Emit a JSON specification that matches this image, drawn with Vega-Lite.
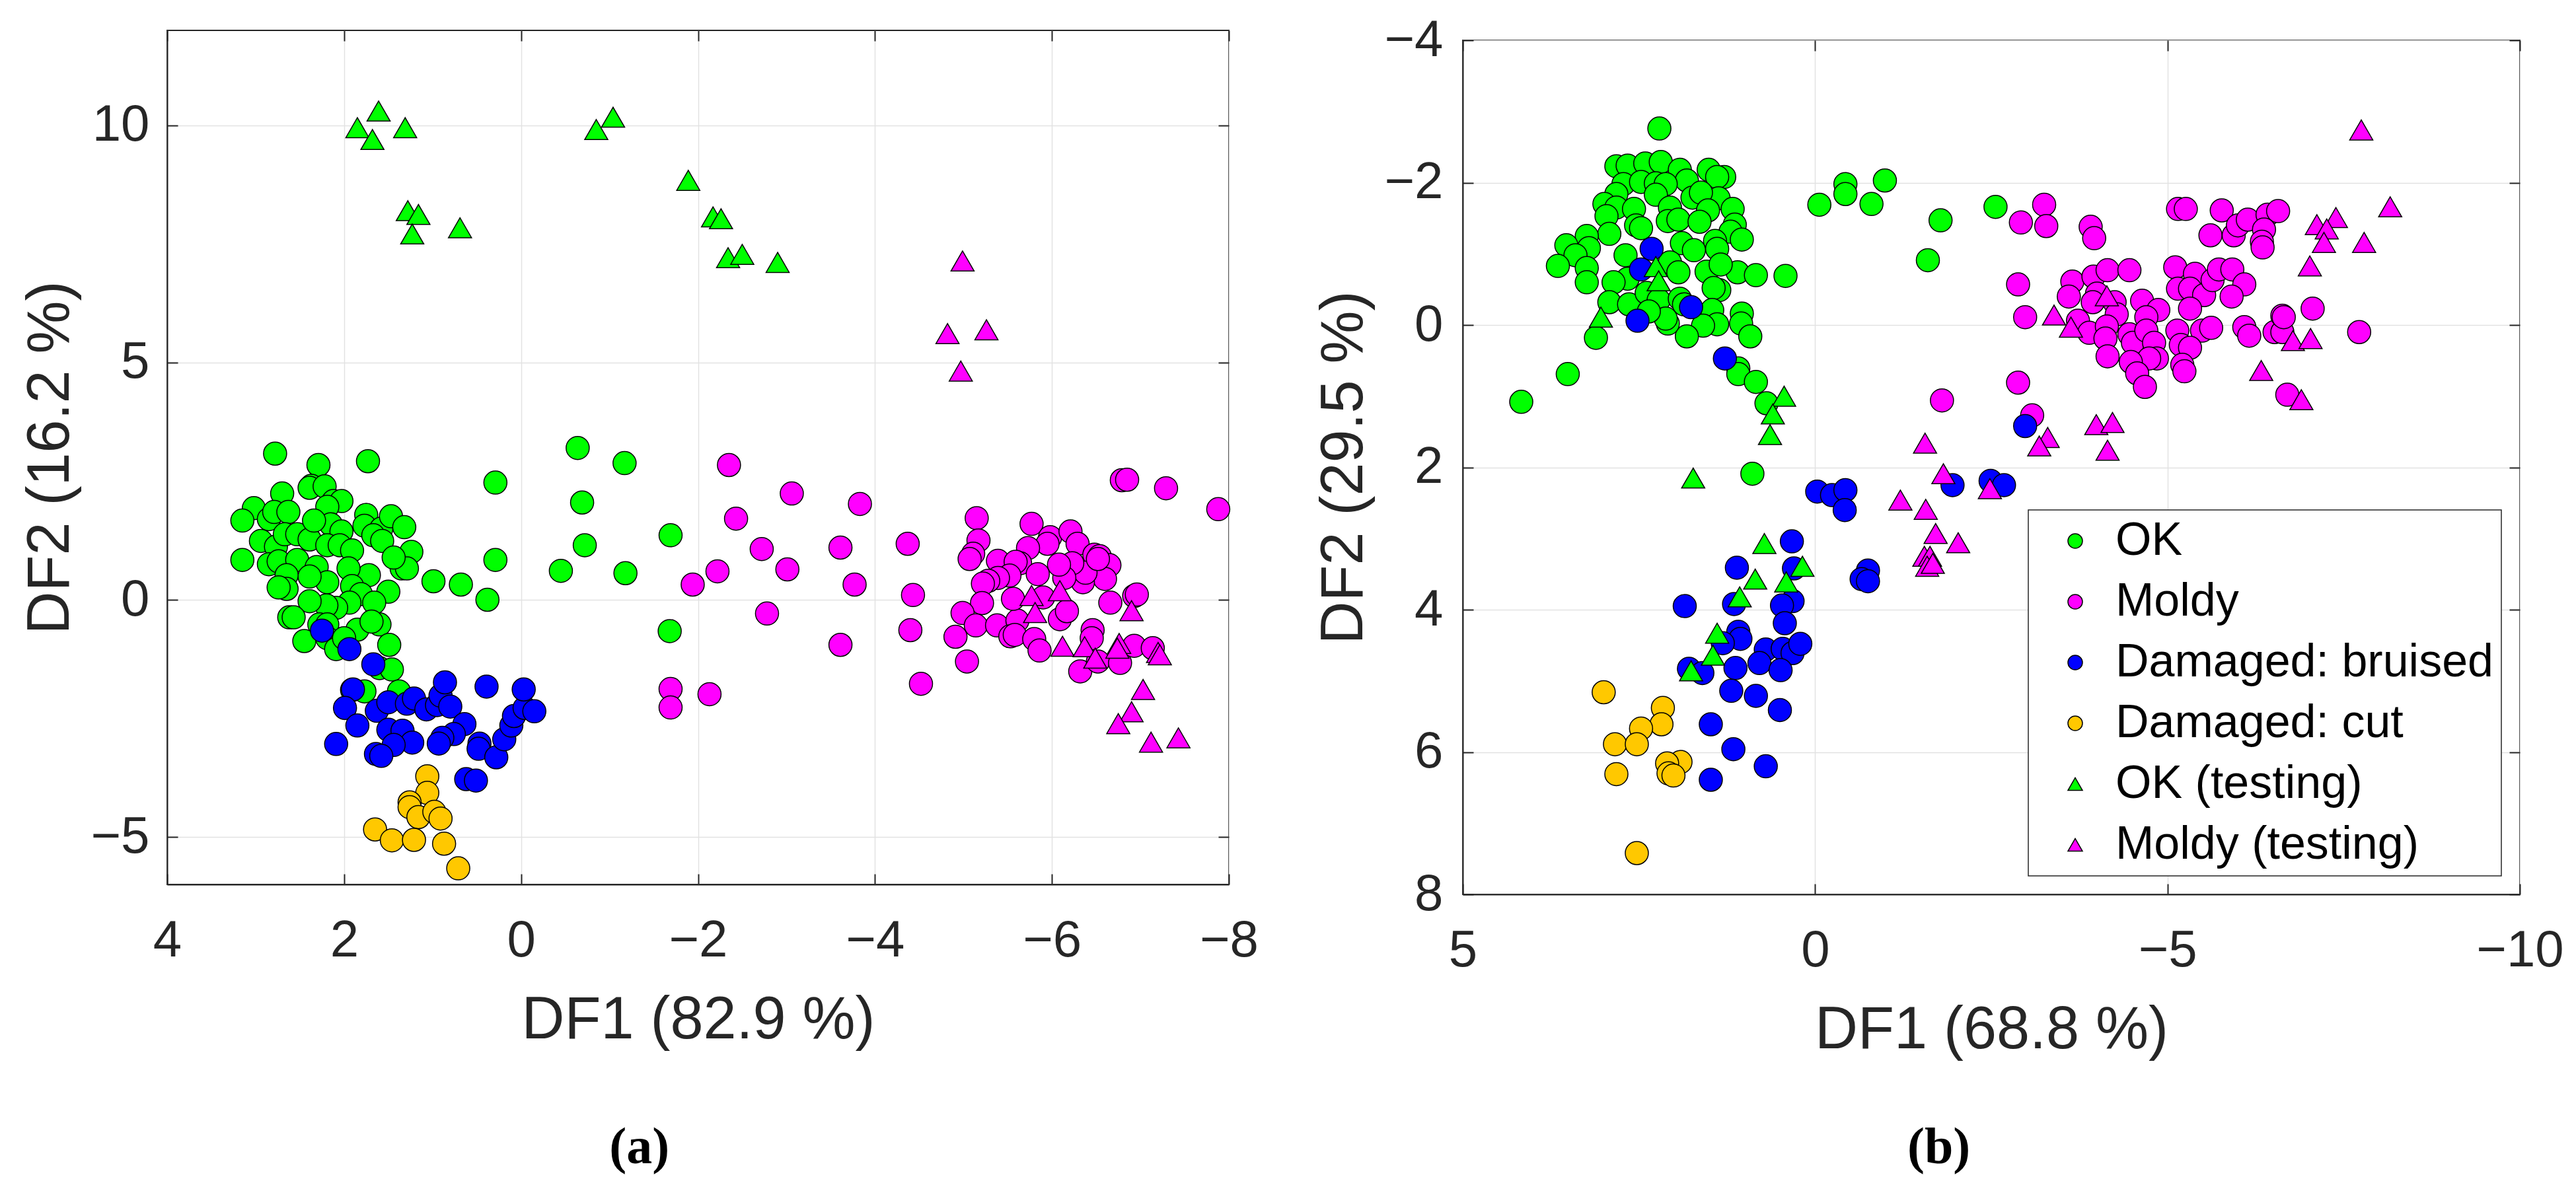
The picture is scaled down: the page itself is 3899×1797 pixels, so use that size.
{
  "$schema": "https://vega.github.io/schema/vega-lite/v6.json",
  "description": "Discriminant function scores, panels (a) and (b)",
  "autosize": {"type": "pad"},
  "padding": {"left": 30, "top": 21, "right": 5, "bottom": 5},
  "bounds": "flush",
  "spacing": 354,
  "config": {
    "font": "Liberation Sans",
    "view": {"stroke": "#262626", "strokeWidth": 2},
    "axis": {
      "labelFont": "Liberation Sans",
      "labelFontSize": 78,
      "labelColor": "#262626",
      "labelFlush": false,
      "labelOverlap": false,
      "labelPadding": 43,
      "titleFont": "Liberation Sans",
      "titleFontSize": 90,
      "titleFontWeight": "normal",
      "titleColor": "#262626",
      "tickColor": "#262626",
      "tickSize": -16,
      "tickWidth": 2,
      "domainColor": "#262626",
      "domainWidth": 2,
      "gridColor": "#e2e2e2",
      "gridWidth": 1.5
    },
    "axisX": {"labelPadding": 62, "titlePadding": 37},
    "axisY": {"titlePadding": 15},
    "legend": {"strokeWidth": 1.5},
    "title": {
      "font": "Liberation Serif",
      "fontWeight": "bold",
      "fontSize": 78,
      "color": "black",
      "orient": "bottom",
      "frame": "bounds",
      "offset": 110
    }
  },
  "resolve": {"legend": {"color": "independent", "shape": "independent"}},
  "datasets": {
    "a": [
      {"c": "OK", "x": 2.78, "y": 3.08}, {"c": "OK", "x": 1.73, "y": 2.92}, {"c": "OK", "x": 2.29, "y": 2.84}, {"c": "OK", "x": 2.37, "y": 2.40},
      {"c": "OK", "x": -0.64, "y": 3.20}, {"c": "OK", "x": -1.17, "y": 2.88}, {"c": "OK", "x": -1.69, "y": 1.36}, {"c": "OK", "x": -1.18, "y": 0.56},
      {"c": "OK", "x": -1.68, "y": -0.66}, {"c": "OK", "x": 0.29, "y": 2.47}, {"c": "OK", "x": -0.69, "y": 2.05}, {"c": "OK", "x": -0.72, "y": 1.15},
      {"c": "OK", "x": 0.29, "y": 0.84}, {"c": "OK", "x": -0.45, "y": 0.61}, {"c": "OK", "x": 0.99, "y": 0.39}, {"c": "OK", "x": 0.68, "y": 0.32},
      {"c": "OK", "x": 0.38, "y": 0.0}, {"c": "OK", "x": 2.70, "y": 2.24}, {"c": "OK", "x": 2.39, "y": 2.36}, {"c": "OK", "x": 2.22, "y": 2.39},
      {"c": "OK", "x": 2.12, "y": 2.08}, {"c": "OK", "x": 2.03, "y": 2.08}, {"c": "OK", "x": 2.19, "y": 1.96}, {"c": "OK", "x": 3.02, "y": 1.93},
      {"c": "OK", "x": 3.15, "y": 1.67}, {"c": "OK", "x": 2.85, "y": 1.70}, {"c": "OK", "x": 2.79, "y": 1.85}, {"c": "OK", "x": 2.63, "y": 1.85},
      {"c": "OK", "x": 2.94, "y": 1.24}, {"c": "OK", "x": 2.77, "y": 1.12}, {"c": "OK", "x": 2.67, "y": 1.38}, {"c": "OK", "x": 2.53, "y": 1.38},
      {"c": "OK", "x": 2.39, "y": 1.27}, {"c": "OK", "x": 2.15, "y": 1.59}, {"c": "OK", "x": 2.34, "y": 1.67}, {"c": "OK", "x": 2.03, "y": 1.44},
      {"c": "OK", "x": 1.75, "y": 1.79}, {"c": "OK", "x": 1.77, "y": 1.56}, {"c": "OK", "x": 1.58, "y": 1.50}, {"c": "OK", "x": 1.47, "y": 1.76},
      {"c": "OK", "x": 1.32, "y": 1.53}, {"c": "OK", "x": 1.67, "y": 1.36}, {"c": "OK", "x": 1.57, "y": 1.24}, {"c": "OK", "x": 3.15, "y": 0.84},
      {"c": "OK", "x": 2.85, "y": 0.75}, {"c": "OK", "x": 2.74, "y": 0.81}, {"c": "OK", "x": 2.53, "y": 0.84}, {"c": "OK", "x": 2.31, "y": 0.69},
      {"c": "OK", "x": 2.19, "y": 1.15}, {"c": "OK", "x": 2.05, "y": 1.15}, {"c": "OK", "x": 1.91, "y": 1.04}, {"c": "OK", "x": 1.24, "y": 1.01},
      {"c": "OK", "x": 1.35, "y": 0.66}, {"c": "OK", "x": 1.29, "y": 0.66}, {"c": "OK", "x": 1.44, "y": 0.89}, {"c": "OK", "x": 1.72, "y": 0.52},
      {"c": "OK", "x": 1.95, "y": 0.66}, {"c": "OK", "x": 2.19, "y": 0.37}, {"c": "OK", "x": 2.39, "y": 0.49}, {"c": "OK", "x": 2.65, "y": 0.52},
      {"c": "OK", "x": 2.65, "y": 0.23}, {"c": "OK", "x": 2.74, "y": 0.26}, {"c": "OK", "x": 1.91, "y": 0.29}, {"c": "OK", "x": 1.81, "y": 0.12},
      {"c": "OK", "x": 1.50, "y": 0.17}, {"c": "OK", "x": 1.66, "y": -0.06}, {"c": "OK", "x": 1.94, "y": -0.06}, {"c": "OK", "x": 2.09, "y": -0.17},
      {"c": "OK", "x": 2.20, "y": -0.12}, {"c": "OK", "x": 2.39, "y": -0.03}, {"c": "OK", "x": 2.62, "y": -0.37}, {"c": "OK", "x": 2.57, "y": -0.37},
      {"c": "OK", "x": 2.28, "y": -0.52}, {"c": "OK", "x": 2.19, "y": -0.52}, {"c": "OK", "x": 1.85, "y": -0.63}, {"c": "OK", "x": 1.60, "y": -0.52},
      {"c": "OK", "x": 1.69, "y": -0.46}, {"c": "OK", "x": 2.45, "y": -0.87}, {"c": "OK", "x": 2.19, "y": -0.81}, {"c": "OK", "x": 2.09, "y": -1.04},
      {"c": "OK", "x": 2.00, "y": -0.81}, {"c": "OK", "x": 1.49, "y": -0.95}, {"c": "OK", "x": 1.60, "y": -1.44}, {"c": "OK", "x": 1.46, "y": -1.47},
      {"c": "OK", "x": 1.91, "y": -1.90}, {"c": "OK", "x": 1.77, "y": -1.93}, {"c": "OK", "x": 1.38, "y": -1.93},
      {"c": "Moldy", "x": -2.35, "y": 2.84}, {"c": "Moldy", "x": -3.06, "y": 2.24}, {"c": "Moldy", "x": -3.83, "y": 2.02}, {"c": "Moldy", "x": -2.43, "y": 1.71},
      {"c": "Moldy", "x": -2.72, "y": 1.07}, {"c": "Moldy", "x": -3.61, "y": 1.10}, {"c": "Moldy", "x": -4.37, "y": 1.18}, {"c": "Moldy", "x": -2.22, "y": 0.60},
      {"c": "Moldy", "x": -3.01, "y": 0.64}, {"c": "Moldy", "x": -1.94, "y": 0.32}, {"c": "Moldy", "x": -3.77, "y": 0.32}, {"c": "Moldy", "x": -4.43, "y": 0.10},
      {"c": "Moldy", "x": -2.78, "y": -0.29}, {"c": "Moldy", "x": -3.61, "y": -0.95}, {"c": "Moldy", "x": -4.40, "y": -0.64}, {"c": "Moldy", "x": -4.52, "y": -1.77},
      {"c": "Moldy", "x": -1.69, "y": -1.88}, {"c": "Moldy", "x": -1.69, "y": -2.27}, {"c": "Moldy", "x": -2.13, "y": -1.99}, {"c": "Moldy", "x": -6.79, "y": 2.52},
      {"c": "Moldy", "x": -6.85, "y": 2.53}, {"c": "Moldy", "x": -7.29, "y": 2.35}, {"c": "Moldy", "x": -7.88, "y": 1.91}, {"c": "Moldy", "x": -5.15, "y": 1.72},
      {"c": "Moldy", "x": -5.17, "y": 1.25}, {"c": "Moldy", "x": -5.11, "y": 0.97}, {"c": "Moldy", "x": -5.07, "y": 0.86}, {"c": "Moldy", "x": -5.77, "y": 1.60},
      {"c": "Moldy", "x": -5.98, "y": 1.32}, {"c": "Moldy", "x": -5.95, "y": 1.18}, {"c": "Moldy", "x": -5.73, "y": 1.09}, {"c": "Moldy", "x": -5.64, "y": 0.77},
      {"c": "Moldy", "x": -5.39, "y": 0.82}, {"c": "Moldy", "x": -6.21, "y": 1.44}, {"c": "Moldy", "x": -6.29, "y": 1.18}, {"c": "Moldy", "x": -6.48, "y": 0.95},
      {"c": "Moldy", "x": -6.54, "y": 0.92}, {"c": "Moldy", "x": -6.65, "y": 0.73}, {"c": "Moldy", "x": -6.60, "y": 0.44}, {"c": "Moldy", "x": -6.35, "y": 0.37},
      {"c": "Moldy", "x": -6.38, "y": 0.57}, {"c": "Moldy", "x": -6.23, "y": 0.77}, {"c": "Moldy", "x": -6.14, "y": 0.46}, {"c": "Moldy", "x": -6.08, "y": 0.74},
      {"c": "Moldy", "x": -5.84, "y": 0.54}, {"c": "Moldy", "x": -5.59, "y": 0.80}, {"c": "Moldy", "x": -5.52, "y": 0.51}, {"c": "Moldy", "x": -5.39, "y": 0.46},
      {"c": "Moldy", "x": -5.28, "y": 0.40}, {"c": "Moldy", "x": -5.22, "y": 0.34}, {"c": "Moldy", "x": -5.21, "y": -0.07}, {"c": "Moldy", "x": -4.99, "y": -0.28},
      {"c": "Moldy", "x": -5.14, "y": -0.54}, {"c": "Moldy", "x": -4.91, "y": -0.78}, {"c": "Moldy", "x": -5.04, "y": -1.30}, {"c": "Moldy", "x": -5.38, "y": -0.54},
      {"c": "Moldy", "x": -5.61, "y": -0.44}, {"c": "Moldy", "x": -5.56, "y": 0.02}, {"c": "Moldy", "x": -5.90, "y": 0.05}, {"c": "Moldy", "x": -5.53, "y": -0.77},
      {"c": "Moldy", "x": -5.58, "y": -0.74}, {"c": "Moldy", "x": -5.80, "y": -0.83}, {"c": "Moldy", "x": -5.86, "y": -1.07}, {"c": "Moldy", "x": -6.09, "y": -0.41},
      {"c": "Moldy", "x": -6.17, "y": -0.24}, {"c": "Moldy", "x": -6.32, "y": -1.51}, {"c": "Moldy", "x": -6.46, "y": -0.64}, {"c": "Moldy", "x": -6.45, "y": -0.81},
      {"c": "Moldy", "x": -6.52, "y": -1.30}, {"c": "Moldy", "x": -6.66, "y": -0.06}, {"c": "Moldy", "x": -6.77, "y": -1.33}, {"c": "Moldy", "x": -6.93, "y": 0.08},
      {"c": "Moldy", "x": -6.96, "y": 0.11}, {"c": "Moldy", "x": -6.93, "y": -0.97}, {"c": "Moldy", "x": -7.14, "y": -1.02}, {"c": "Moldy", "x": -6.52, "y": 0.86},
      {"c": "Damaged: bruised", "x": 2.25, "y": -0.65}, {"c": "Damaged: bruised", "x": 1.94, "y": -1.04}, {"c": "Damaged: bruised", "x": 1.67, "y": -1.36},
      {"c": "Damaged: bruised", "x": 1.90, "y": -1.89}, {"c": "Damaged: bruised", "x": 1.99, "y": -2.28}, {"c": "Damaged: bruised", "x": 1.85, "y": -2.65},
      {"c": "Damaged: bruised", "x": 2.09, "y": -3.04}, {"c": "Damaged: bruised", "x": 1.63, "y": -2.34}, {"c": "Damaged: bruised", "x": 1.50, "y": -2.16},
      {"c": "Damaged: bruised", "x": 1.29, "y": -2.19}, {"c": "Damaged: bruised", "x": 1.21, "y": -2.08}, {"c": "Damaged: bruised", "x": 1.07, "y": -2.31},
      {"c": "Damaged: bruised", "x": 0.95, "y": -2.22}, {"c": "Damaged: bruised", "x": 0.91, "y": -2.02}, {"c": "Damaged: bruised", "x": 0.86, "y": -1.74},
      {"c": "Damaged: bruised", "x": 0.80, "y": -2.25}, {"c": "Damaged: bruised", "x": 0.64, "y": -2.62}, {"c": "Damaged: bruised", "x": 0.76, "y": -2.83},
      {"c": "Damaged: bruised", "x": 0.89, "y": -2.91}, {"c": "Damaged: bruised", "x": 0.93, "y": -3.03}, {"c": "Damaged: bruised", "x": 1.50, "y": -2.74},
      {"c": "Damaged: bruised", "x": 1.34, "y": -2.76}, {"c": "Damaged: bruised", "x": 1.23, "y": -3.01}, {"c": "Damaged: bruised", "x": 1.44, "y": -3.06},
      {"c": "Damaged: bruised", "x": 1.64, "y": -3.25}, {"c": "Damaged: bruised", "x": 1.58, "y": -3.29}, {"c": "Damaged: bruised", "x": 0.47, "y": -3.03},
      {"c": "Damaged: bruised", "x": 0.48, "y": -3.14}, {"c": "Damaged: bruised", "x": 0.28, "y": -3.32}, {"c": "Damaged: bruised", "x": 0.19, "y": -2.94},
      {"c": "Damaged: bruised", "x": 0.11, "y": -2.65}, {"c": "Damaged: bruised", "x": 0.08, "y": -2.45}, {"c": "Damaged: bruised", "x": -0.04, "y": -2.28},
      {"c": "Damaged: bruised", "x": -0.15, "y": -2.35}, {"c": "Damaged: bruised", "x": -0.03, "y": -1.89}, {"c": "Damaged: bruised", "x": 0.39, "y": -1.83},
      {"c": "Damaged: bruised", "x": 0.62, "y": -3.78}, {"c": "Damaged: bruised", "x": 0.51, "y": -3.81},
      {"c": "Damaged: cut", "x": 1.06, "y": -3.72}, {"c": "Damaged: cut", "x": 1.06, "y": -4.07}, {"c": "Damaged: cut", "x": 1.26, "y": -4.27},
      {"c": "Damaged: cut", "x": 1.26, "y": -4.37}, {"c": "Damaged: cut", "x": 1.16, "y": -4.58}, {"c": "Damaged: cut", "x": 0.98, "y": -4.47},
      {"c": "Damaged: cut", "x": 0.91, "y": -4.61}, {"c": "Damaged: cut", "x": 1.65, "y": -4.84}, {"c": "Damaged: cut", "x": 1.46, "y": -5.07},
      {"c": "Damaged: cut", "x": 1.21, "y": -5.06}, {"c": "Damaged: cut", "x": 0.87, "y": -5.14}, {"c": "Damaged: cut", "x": 0.71, "y": -5.66},
      {"c": "OK (testing)", "x": 1.85, "y": 9.95}, {"c": "OK (testing)", "x": 1.61, "y": 10.30}, {"c": "OK (testing)", "x": 1.68, "y": 9.70},
      {"c": "OK (testing)", "x": 1.31, "y": 9.95}, {"c": "OK (testing)", "x": -0.85, "y": 9.91}, {"c": "OK (testing)", "x": -1.04, "y": 10.17},
      {"c": "OK (testing)", "x": -1.89, "y": 8.84}, {"c": "OK (testing)", "x": 1.28, "y": 8.20}, {"c": "OK (testing)", "x": 1.16, "y": 8.12},
      {"c": "OK (testing)", "x": 1.23, "y": 7.71}, {"c": "OK (testing)", "x": 0.69, "y": 7.84}, {"c": "OK (testing)", "x": -2.17, "y": 8.07},
      {"c": "OK (testing)", "x": -2.26, "y": 8.03}, {"c": "OK (testing)", "x": -2.34, "y": 7.21}, {"c": "OK (testing)", "x": -2.50, "y": 7.28},
      {"c": "OK (testing)", "x": -2.90, "y": 7.11},
      {"c": "Moldy (testing)", "x": -4.99, "y": 7.14}, {"c": "Moldy (testing)", "x": -4.82, "y": 5.61}, {"c": "Moldy (testing)", "x": -5.26, "y": 5.69},
      {"c": "Moldy (testing)", "x": -4.97, "y": 4.82}, {"c": "Moldy (testing)", "x": -5.77, "y": 0.09}, {"c": "Moldy (testing)", "x": -6.09, "y": 0.19},
      {"c": "Moldy (testing)", "x": -5.81, "y": -0.27}, {"c": "Moldy (testing)", "x": -6.90, "y": -0.23}, {"c": "Moldy (testing)", "x": -6.12, "y": -0.98},
      {"c": "Moldy (testing)", "x": -6.37, "y": -0.99}, {"c": "Moldy (testing)", "x": -6.49, "y": -1.23}, {"c": "Moldy (testing)", "x": -6.76, "y": -0.92},
      {"c": "Moldy (testing)", "x": -6.74, "y": -1.02}, {"c": "Moldy (testing)", "x": -7.20, "y": -1.11}, {"c": "Moldy (testing)", "x": -7.22, "y": -1.16},
      {"c": "Moldy (testing)", "x": -7.03, "y": -1.89}, {"c": "Moldy (testing)", "x": -6.90, "y": -2.36}, {"c": "Moldy (testing)", "x": -6.75, "y": -2.61},
      {"c": "Moldy (testing)", "x": -7.12, "y": -3.00}, {"c": "Moldy (testing)", "x": -7.43, "y": -2.91}
    ],
    "b": [
      {"c": "OK", "x": 2.21, "y": -2.76}, {"c": "OK", "x": 2.82, "y": -2.23}, {"c": "OK", "x": 2.66, "y": -2.24}, {"c": "OK", "x": 2.41, "y": -2.27},
      {"c": "OK", "x": 2.19, "y": -2.29}, {"c": "OK", "x": 1.92, "y": -2.18}, {"c": "OK", "x": 1.82, "y": -2.03}, {"c": "OK", "x": 1.51, "y": -2.18},
      {"c": "OK", "x": 1.29, "y": -2.08}, {"c": "OK", "x": 1.39, "y": -2.08}, {"c": "OK", "x": 2.72, "y": -1.98}, {"c": "OK", "x": 2.47, "y": -2.01},
      {"c": "OK", "x": 2.26, "y": -1.99}, {"c": "OK", "x": 2.12, "y": -1.98}, {"c": "OK", "x": 2.82, "y": -1.84}, {"c": "OK", "x": 2.26, "y": -1.83},
      {"c": "OK", "x": 1.74, "y": -1.79}, {"c": "OK", "x": 1.37, "y": -1.78}, {"c": "OK", "x": 1.62, "y": -1.86}, {"c": "OK", "x": 2.99, "y": -1.70},
      {"c": "OK", "x": 2.82, "y": -1.65}, {"c": "OK", "x": 2.57, "y": -1.63}, {"c": "OK", "x": 2.06, "y": -1.65}, {"c": "OK", "x": 1.17, "y": -1.63},
      {"c": "OK", "x": 1.52, "y": -1.61}, {"c": "OK", "x": 2.96, "y": -1.53}, {"c": "OK", "x": 2.92, "y": -1.28}, {"c": "OK", "x": 2.54, "y": -1.40},
      {"c": "OK", "x": 2.47, "y": -1.36}, {"c": "OK", "x": 2.09, "y": -1.46}, {"c": "OK", "x": 1.94, "y": -1.48}, {"c": "OK", "x": 1.64, "y": -1.45},
      {"c": "OK", "x": 1.14, "y": -1.41}, {"c": "OK", "x": 1.20, "y": -1.31}, {"c": "OK", "x": 1.04, "y": -1.20}, {"c": "OK", "x": 1.42, "y": -1.18},
      {"c": "OK", "x": 1.39, "y": -1.07}, {"c": "OK", "x": 1.89, "y": -1.15}, {"c": "OK", "x": 1.72, "y": -1.05}, {"c": "OK", "x": 3.24, "y": -1.25},
      {"c": "OK", "x": 3.21, "y": -1.08}, {"c": "OK", "x": 3.53, "y": -1.12}, {"c": "OK", "x": 3.40, "y": -0.98}, {"c": "OK", "x": 3.65, "y": -0.83},
      {"c": "OK", "x": 3.24, "y": -0.80}, {"c": "OK", "x": 3.24, "y": -0.60}, {"c": "OK", "x": 2.69, "y": -0.98}, {"c": "OK", "x": 2.06, "y": -0.88},
      {"c": "OK", "x": 1.94, "y": -0.74}, {"c": "OK", "x": 2.66, "y": -0.65}, {"c": "OK", "x": 2.86, "y": -0.60}, {"c": "OK", "x": 1.54, "y": -0.75},
      {"c": "OK", "x": 1.10, "y": -0.74}, {"c": "OK", "x": 0.84, "y": -0.70}, {"c": "OK", "x": 0.42, "y": -0.69}, {"c": "OK", "x": 1.34, "y": -0.85},
      {"c": "OK", "x": 2.92, "y": -0.32}, {"c": "OK", "x": 2.64, "y": -0.29}, {"c": "OK", "x": 2.39, "y": -0.45}, {"c": "OK", "x": 2.22, "y": -0.35},
      {"c": "OK", "x": 1.92, "y": -0.37}, {"c": "OK", "x": 1.86, "y": -0.29}, {"c": "OK", "x": 1.36, "y": -0.49}, {"c": "OK", "x": 1.44, "y": -0.52},
      {"c": "OK", "x": 1.46, "y": -0.21}, {"c": "OK", "x": 1.39, "y": -0.01}, {"c": "OK", "x": 1.04, "y": -0.16}, {"c": "OK", "x": 1.05, "y": -0.02},
      {"c": "OK", "x": 0.92, "y": 0.16}, {"c": "OK", "x": 1.59, "y": 0.01}, {"c": "OK", "x": 1.82, "y": 0.16}, {"c": "OK", "x": 2.09, "y": -0.02},
      {"c": "OK", "x": 2.12, "y": -0.09}, {"c": "OK", "x": 2.36, "y": -0.19}, {"c": "OK", "x": 3.11, "y": 0.18}, {"c": "OK", "x": 3.51, "y": 0.69},
      {"c": "OK", "x": 4.17, "y": 1.08}, {"c": "OK", "x": 1.09, "y": 0.61}, {"c": "OK", "x": 1.09, "y": 0.69}, {"c": "OK", "x": 0.84, "y": 0.80},
      {"c": "OK", "x": 0.69, "y": 1.10}, {"c": "OK", "x": -0.06, "y": -1.69}, {"c": "OK", "x": -0.43, "y": -1.98}, {"c": "OK", "x": -0.43, "y": -1.84},
      {"c": "OK", "x": -0.80, "y": -1.70}, {"c": "OK", "x": -0.99, "y": -2.03}, {"c": "OK", "x": -1.78, "y": -1.47}, {"c": "OK", "x": -2.56, "y": -1.66},
      {"c": "OK", "x": -1.60, "y": -0.91}, {"c": "OK", "x": 0.89, "y": 2.09},
      {"c": "Moldy", "x": -3.25, "y": -1.69}, {"c": "Moldy", "x": -2.92, "y": -1.44}, {"c": "Moldy", "x": -3.28, "y": -1.39}, {"c": "Moldy", "x": -3.91, "y": -1.38},
      {"c": "Moldy", "x": -3.96, "y": -1.22}, {"c": "Moldy", "x": -5.15, "y": -1.63}, {"c": "Moldy", "x": -5.26, "y": -1.63}, {"c": "Moldy", "x": -5.77, "y": -1.61},
      {"c": "Moldy", "x": -5.61, "y": -1.26}, {"c": "Moldy", "x": -5.94, "y": -1.26}, {"c": "Moldy", "x": -6.00, "y": -1.40}, {"c": "Moldy", "x": -6.14, "y": -1.48},
      {"c": "Moldy", "x": -6.42, "y": -1.55}, {"c": "Moldy", "x": -6.57, "y": -1.60}, {"c": "Moldy", "x": -6.37, "y": -1.34}, {"c": "Moldy", "x": -6.34, "y": -1.17},
      {"c": "Moldy", "x": -6.35, "y": -1.09}, {"c": "Moldy", "x": -2.88, "y": -0.57}, {"c": "Moldy", "x": -2.98, "y": -0.11}, {"c": "Moldy", "x": -3.65, "y": -0.61},
      {"c": "Moldy", "x": -3.60, "y": -0.40}, {"c": "Moldy", "x": -3.95, "y": -0.68}, {"c": "Moldy", "x": -4.15, "y": -0.77}, {"c": "Moldy", "x": -4.46, "y": -0.77},
      {"c": "Moldy", "x": -4.00, "y": -0.44}, {"c": "Moldy", "x": -3.94, "y": -0.32}, {"c": "Moldy", "x": -4.25, "y": -0.32}, {"c": "Moldy", "x": -4.28, "y": -0.15},
      {"c": "Moldy", "x": -3.73, "y": -0.06}, {"c": "Moldy", "x": -3.89, "y": 0.11}, {"c": "Moldy", "x": -4.14, "y": 0.02}, {"c": "Moldy", "x": -4.12, "y": 0.19},
      {"c": "Moldy", "x": -4.64, "y": -0.34}, {"c": "Moldy", "x": -4.87, "y": -0.21}, {"c": "Moldy", "x": -4.70, "y": -0.11}, {"c": "Moldy", "x": -4.46, "y": 0.13},
      {"c": "Moldy", "x": -4.51, "y": 0.25}, {"c": "Moldy", "x": -4.70, "y": 0.08}, {"c": "Moldy", "x": -4.81, "y": 0.25}, {"c": "Moldy", "x": -4.85, "y": 0.47},
      {"c": "Moldy", "x": -4.74, "y": 0.47}, {"c": "Moldy", "x": -4.48, "y": 0.52}, {"c": "Moldy", "x": -4.15, "y": 0.44}, {"c": "Moldy", "x": -4.57, "y": 0.68},
      {"c": "Moldy", "x": -4.68, "y": 0.87}, {"c": "Moldy", "x": -5.11, "y": -0.81}, {"c": "Moldy", "x": -5.39, "y": -0.72}, {"c": "Moldy", "x": -5.15, "y": -0.51},
      {"c": "Moldy", "x": -5.32, "y": -0.51}, {"c": "Moldy", "x": -5.52, "y": -0.42}, {"c": "Moldy", "x": -5.32, "y": -0.23}, {"c": "Moldy", "x": -5.64, "y": -0.63},
      {"c": "Moldy", "x": -5.73, "y": -0.78}, {"c": "Moldy", "x": -5.92, "y": -0.78}, {"c": "Moldy", "x": -6.09, "y": -0.57}, {"c": "Moldy", "x": -5.91, "y": -0.40},
      {"c": "Moldy", "x": -5.14, "y": 0.08}, {"c": "Moldy", "x": -5.49, "y": 0.08}, {"c": "Moldy", "x": -5.62, "y": 0.04}, {"c": "Moldy", "x": -5.19, "y": 0.28},
      {"c": "Moldy", "x": -5.32, "y": 0.32}, {"c": "Moldy", "x": -5.21, "y": 0.56}, {"c": "Moldy", "x": -5.24, "y": 0.65}, {"c": "Moldy", "x": -6.09, "y": 0.03},
      {"c": "Moldy", "x": -6.16, "y": 0.15}, {"c": "Moldy", "x": -6.52, "y": 0.10}, {"c": "Moldy", "x": -6.63, "y": 0.10}, {"c": "Moldy", "x": -6.63, "y": -0.13},
      {"c": "Moldy", "x": -6.65, "y": -0.11}, {"c": "Moldy", "x": -7.06, "y": -0.23}, {"c": "Moldy", "x": -7.72, "y": 0.10}, {"c": "Moldy", "x": -6.70, "y": 0.98},
      {"c": "Moldy", "x": -2.88, "y": 0.81}, {"c": "Moldy", "x": -1.80, "y": 1.06}, {"c": "Moldy", "x": -3.08, "y": 1.27},
      {"c": "Damaged: bruised", "x": 2.32, "y": -1.07}, {"c": "Damaged: bruised", "x": 2.47, "y": -0.78}, {"c": "Damaged: bruised", "x": 2.52, "y": -0.06},
      {"c": "Damaged: bruised", "x": 1.76, "y": -0.25}, {"c": "Damaged: bruised", "x": 1.28, "y": 0.47}, {"c": "Damaged: bruised", "x": -2.98, "y": 1.42},
      {"c": "Damaged: bruised", "x": -1.95, "y": 2.25}, {"c": "Damaged: bruised", "x": -2.49, "y": 2.19}, {"c": "Damaged: bruised", "x": -2.68, "y": 2.25},
      {"c": "Damaged: bruised", "x": -0.03, "y": 2.34}, {"c": "Damaged: bruised", "x": -0.24, "y": 2.39}, {"c": "Damaged: bruised", "x": -0.43, "y": 2.32},
      {"c": "Damaged: bruised", "x": -0.42, "y": 2.60}, {"c": "Damaged: bruised", "x": 0.33, "y": 3.04}, {"c": "Damaged: bruised", "x": 1.11, "y": 3.41},
      {"c": "Damaged: bruised", "x": 0.30, "y": 3.42}, {"c": "Damaged: bruised", "x": 0.32, "y": 3.88}, {"c": "Damaged: bruised", "x": 0.47, "y": 3.94},
      {"c": "Damaged: bruised", "x": 1.85, "y": 3.95}, {"c": "Damaged: bruised", "x": 1.15, "y": 3.92}, {"c": "Damaged: bruised", "x": 0.43, "y": 4.19},
      {"c": "Damaged: bruised", "x": 1.09, "y": 4.31}, {"c": "Damaged: bruised", "x": 1.06, "y": 4.41}, {"c": "Damaged: bruised", "x": 1.31, "y": 4.47},
      {"c": "Damaged: bruised", "x": 0.70, "y": 4.56}, {"c": "Damaged: bruised", "x": 0.46, "y": 4.55}, {"c": "Damaged: bruised", "x": 0.32, "y": 4.61},
      {"c": "Damaged: bruised", "x": 0.21, "y": 4.48}, {"c": "Damaged: bruised", "x": 0.79, "y": 4.75}, {"c": "Damaged: bruised", "x": 0.49, "y": 4.85},
      {"c": "Damaged: bruised", "x": 1.13, "y": 4.82}, {"c": "Damaged: bruised", "x": 1.79, "y": 4.83}, {"c": "Damaged: bruised", "x": 1.60, "y": 4.89},
      {"c": "Damaged: bruised", "x": 1.19, "y": 5.14}, {"c": "Damaged: bruised", "x": 0.84, "y": 5.21}, {"c": "Damaged: bruised", "x": 0.50, "y": 5.41},
      {"c": "Damaged: bruised", "x": 1.48, "y": 5.61}, {"c": "Damaged: bruised", "x": 1.16, "y": 5.96}, {"c": "Damaged: bruised", "x": 0.70, "y": 6.20},
      {"c": "Damaged: bruised", "x": 1.48, "y": 6.39}, {"c": "Damaged: bruised", "x": -0.75, "y": 3.45}, {"c": "Damaged: bruised", "x": -0.66, "y": 3.57},
      {"c": "Damaged: bruised", "x": -0.75, "y": 3.60},
      {"c": "Damaged: cut", "x": 3.00, "y": 5.16}, {"c": "Damaged: cut", "x": 2.16, "y": 5.38}, {"c": "Damaged: cut", "x": 2.18, "y": 5.61},
      {"c": "Damaged: cut", "x": 2.47, "y": 5.67}, {"c": "Damaged: cut", "x": 2.84, "y": 5.89}, {"c": "Damaged: cut", "x": 2.53, "y": 5.89},
      {"c": "Damaged: cut", "x": 1.91, "y": 6.14}, {"c": "Damaged: cut", "x": 2.10, "y": 6.16}, {"c": "Damaged: cut", "x": 2.08, "y": 6.30},
      {"c": "Damaged: cut", "x": 2.01, "y": 6.33}, {"c": "Damaged: cut", "x": 2.82, "y": 6.31}, {"c": "Damaged: cut", "x": 2.53, "y": 7.42},
      {"c": "OK (testing)", "x": 2.26, "y": -0.82}, {"c": "OK (testing)", "x": 2.22, "y": -0.62}, {"c": "OK (testing)", "x": 3.04, "y": -0.11},
      {"c": "OK (testing)", "x": 0.44, "y": 1.00}, {"c": "OK (testing)", "x": 0.60, "y": 1.25}, {"c": "OK (testing)", "x": 0.64, "y": 1.54},
      {"c": "OK (testing)", "x": 1.73, "y": 2.15}, {"c": "OK (testing)", "x": 0.72, "y": 3.07}, {"c": "OK (testing)", "x": 0.85, "y": 3.57},
      {"c": "OK (testing)", "x": 0.18, "y": 3.39}, {"c": "OK (testing)", "x": 0.41, "y": 3.61}, {"c": "OK (testing)", "x": 1.07, "y": 3.82},
      {"c": "OK (testing)", "x": 1.39, "y": 4.33}, {"c": "OK (testing)", "x": 1.45, "y": 4.64}, {"c": "OK (testing)", "x": 1.76, "y": 4.86},
      {"c": "Moldy (testing)", "x": -7.75, "y": -2.74}, {"c": "Moldy (testing)", "x": -8.16, "y": -1.66}, {"c": "Moldy (testing)", "x": -7.39, "y": -1.51},
      {"c": "Moldy (testing)", "x": -7.12, "y": -1.41}, {"c": "Moldy (testing)", "x": -7.26, "y": -1.35}, {"c": "Moldy (testing)", "x": -7.22, "y": -1.16},
      {"c": "Moldy (testing)", "x": -7.79, "y": -1.16}, {"c": "Moldy (testing)", "x": -7.02, "y": -0.83}, {"c": "Moldy (testing)", "x": -4.14, "y": -0.41},
      {"c": "Moldy (testing)", "x": -3.39, "y": -0.14}, {"c": "Moldy (testing)", "x": -3.63, "y": 0.03}, {"c": "Moldy (testing)", "x": -6.78, "y": 0.22},
      {"c": "Moldy (testing)", "x": -7.03, "y": 0.19}, {"c": "Moldy (testing)", "x": -6.33, "y": 0.64}, {"c": "Moldy (testing)", "x": -6.90, "y": 1.05},
      {"c": "Moldy (testing)", "x": -3.99, "y": 1.40}, {"c": "Moldy (testing)", "x": -4.22, "y": 1.37}, {"c": "Moldy (testing)", "x": -3.30, "y": 1.58},
      {"c": "Moldy (testing)", "x": -3.18, "y": 1.70}, {"c": "Moldy (testing)", "x": -4.15, "y": 1.76}, {"c": "Moldy (testing)", "x": -2.48, "y": 2.30},
      {"c": "Moldy (testing)", "x": -2.03, "y": 3.06}, {"c": "Moldy (testing)", "x": -1.56, "y": 1.66}, {"c": "Moldy (testing)", "x": -1.82, "y": 2.09},
      {"c": "Moldy (testing)", "x": -1.21, "y": 2.46}, {"c": "Moldy (testing)", "x": -1.57, "y": 2.59}, {"c": "Moldy (testing)", "x": -1.71, "y": 2.93},
      {"c": "Moldy (testing)", "x": -1.55, "y": 3.25}, {"c": "Moldy (testing)", "x": -1.63, "y": 3.25}, {"c": "Moldy (testing)", "x": -1.59, "y": 3.39},
      {"c": "Moldy (testing)", "x": -1.67, "y": 3.35}
    ]
  },
  "hconcat": [
    {
      "width": 1607,
      "height": 1293,
      "data": {"name": "a"},
      "title": {"text": "(a)"},
      "resolve": {"axis": {"x": "independent", "y": "independent"}},
      "layer": [
        {
          "mark": {"type": "point", "filled": true, "opacity": 1, "stroke": "black", "strokeWidth": 1.5},
          "encoding": {
            "x": {
              "field": "x", "type": "quantitative",
              "scale": {"domain": [-8, 4], "reverse": true, "nice": false, "zero": false},
              "axis": {"title": "DF1 (82.9 %)", "values": [4, 2, 0, -2, -4, -6, -8]}
            },
            "y": {
              "field": "y", "type": "quantitative",
              "scale": {"domain": [-6, 12], "nice": false, "zero": false},
              "axis": {"title": "DF2 (16.2 %)", "values": [-5, 0, 5, 10]}
            },
            "color": {
              "field": "c", "type": "nominal",
              "scale": {
                "domain": ["OK", "Moldy", "Damaged: bruised", "Damaged: cut", "OK (testing)", "Moldy (testing)"],
                "range": ["#00ff00", "#ff00ff", "#0000ff", "#ffc800", "#00ff00", "#ff00ff"]
              },
              "legend": null
            },
            "shape": {
              "field": "c", "type": "nominal",
              "scale": {
                "domain": ["OK", "Moldy", "Damaged: bruised", "Damaged: cut", "OK (testing)", "Moldy (testing)"],
                "range": ["circle", "circle", "circle", "circle", "triangle-up", "triangle-up"]
              },
              "legend": null
            },
            "size": {
              "field": "c", "type": "nominal",
              "scale": {
                "domain": ["OK", "Moldy", "Damaged: bruised", "Damaged: cut", "OK (testing)", "Moldy (testing)"],
                "range": [1225, 1225, 1225, 1225, 1681, 1681]
              },
              "legend": null
            }
          }
        },
        {
          "mark": {"type": "point", "opacity": 0},
          "encoding": {
            "x": {
              "field": "x", "type": "quantitative",
              "axis": {"orient": "top", "labels": false, "title": null, "grid": false, "domain": false, "values": [4, 2, 0, -2, -4, -6, -8]}
            },
            "y": {
              "field": "y", "type": "quantitative",
              "axis": {"orient": "right", "labels": false, "title": null, "grid": false, "domain": false, "values": [-5, 0, 5, 10]}
            }
          }
        }
      ]
    },
    {
      "bounds": "flush",
      "spacing": 14,
      "resolve": {"legend": {"color": "independent", "shape": "independent"}},
      "vconcat": [
        {
          "width": 1600,
          "height": 1,
          "data": {"values": []},
          "mark": {"type": "point", "opacity": 0},
          "view": {"stroke": null}
        },
        {
          "width": 1600,
          "height": 1293,
          "data": {"name": "b"},
          "title": {"text": "(b)", "offset": 95},
          "resolve": {"axis": {"x": "independent", "y": "independent"}},
          "layer": [
            {
              "mark": {"type": "point", "filled": true, "opacity": 1, "stroke": "black", "strokeWidth": 1.5},
              "encoding": {
                "x": {
                  "field": "x", "type": "quantitative",
                  "scale": {"domain": [-10, 5], "reverse": true, "nice": false, "zero": false},
                  "axis": {"title": "DF1 (68.8 %)", "values": [5, 0, -5, -10]}
                },
                "y": {
                  "field": "y", "type": "quantitative",
                  "scale": {"domain": [-4, 8], "reverse": true, "nice": false, "zero": false},
                  "axis": {"title": "DF2 (29.5 %)", "values": [-4, -2, 0, 2, 4, 6, 8], "labelPadding": 46}
                },
                "color": {
                  "field": "c", "type": "nominal",
                  "scale": {
                    "domain": ["OK", "Moldy", "Damaged: bruised", "Damaged: cut", "OK (testing)", "Moldy (testing)"],
                    "range": ["#00ff00", "#ff00ff", "#0000ff", "#ffc800", "#00ff00", "#ff00ff"]
                  },
                  "legend": {
                    "title": null, "orient": "bottom-right", "offset": 28, "padding": 12,
                    "strokeColor": "#262626", "fillColor": "white",
                    "labelFont": "Liberation Sans", "labelFontSize": 70, "labelColor": "black", "labelLimit": 1000,
                    "labelOffset": 26, "symbolOffset": 24, "rowPadding": 22, "symbolSize": 484,
                    "symbolStrokeColor": "black", "symbolStrokeWidth": 1.5,
                    "encode": {"symbols": {"update": {
                      "size": {"signal": "datum.value == 'OK (testing)' || datum.value == 'Moldy (testing)' ? 702 : 484"},
                      "stroke": {"value": "black"}, "strokeWidth": {"value": 1.5}, "opacity": {"value": 1}
                    }}}
                  }
                },
                "shape": {
                  "field": "c", "type": "nominal",
                  "scale": {
                    "domain": ["OK", "Moldy", "Damaged: bruised", "Damaged: cut", "OK (testing)", "Moldy (testing)"],
                    "range": ["circle", "circle", "circle", "circle", "triangle-up", "triangle-up"]
                  },
                  "legend": {
                    "title": null, "orient": "bottom-right", "offset": 28, "padding": 12,
                    "strokeColor": "#262626", "fillColor": "white",
                    "labelFont": "Liberation Sans", "labelFontSize": 70, "labelColor": "black", "labelLimit": 1000,
                    "labelOffset": 26, "symbolOffset": 24, "rowPadding": 22, "symbolSize": 484,
                    "symbolStrokeColor": "black", "symbolStrokeWidth": 1.5,
                    "encode": {"symbols": {"update": {
                      "size": {"signal": "datum.value == 'OK (testing)' || datum.value == 'Moldy (testing)' ? 702 : 484"},
                      "stroke": {"value": "black"}, "strokeWidth": {"value": 1.5}, "opacity": {"value": 1}
                    }}}
                  }
                },
                "size": {
                  "field": "c", "type": "nominal",
                  "scale": {
                    "domain": ["OK", "Moldy", "Damaged: bruised", "Damaged: cut", "OK (testing)", "Moldy (testing)"],
                    "range": [1225, 1225, 1225, 1225, 1681, 1681]
                  },
                  "legend": null
                }
              }
            },
            {
              "mark": {"type": "point", "opacity": 0},
              "encoding": {
                "x": {
                  "field": "x", "type": "quantitative",
                  "axis": {"orient": "top", "labels": false, "title": null, "grid": false, "domain": false, "values": [5, 0, -5, -10]}
                },
                "y": {
                  "field": "y", "type": "quantitative",
                  "axis": {"orient": "right", "labels": false, "title": null, "grid": false, "domain": false, "values": [-4, -2, 0, 2, 4, 6, 8]}
                }
              }
            }
          ]
        }
      ]
    }
  ]
}
